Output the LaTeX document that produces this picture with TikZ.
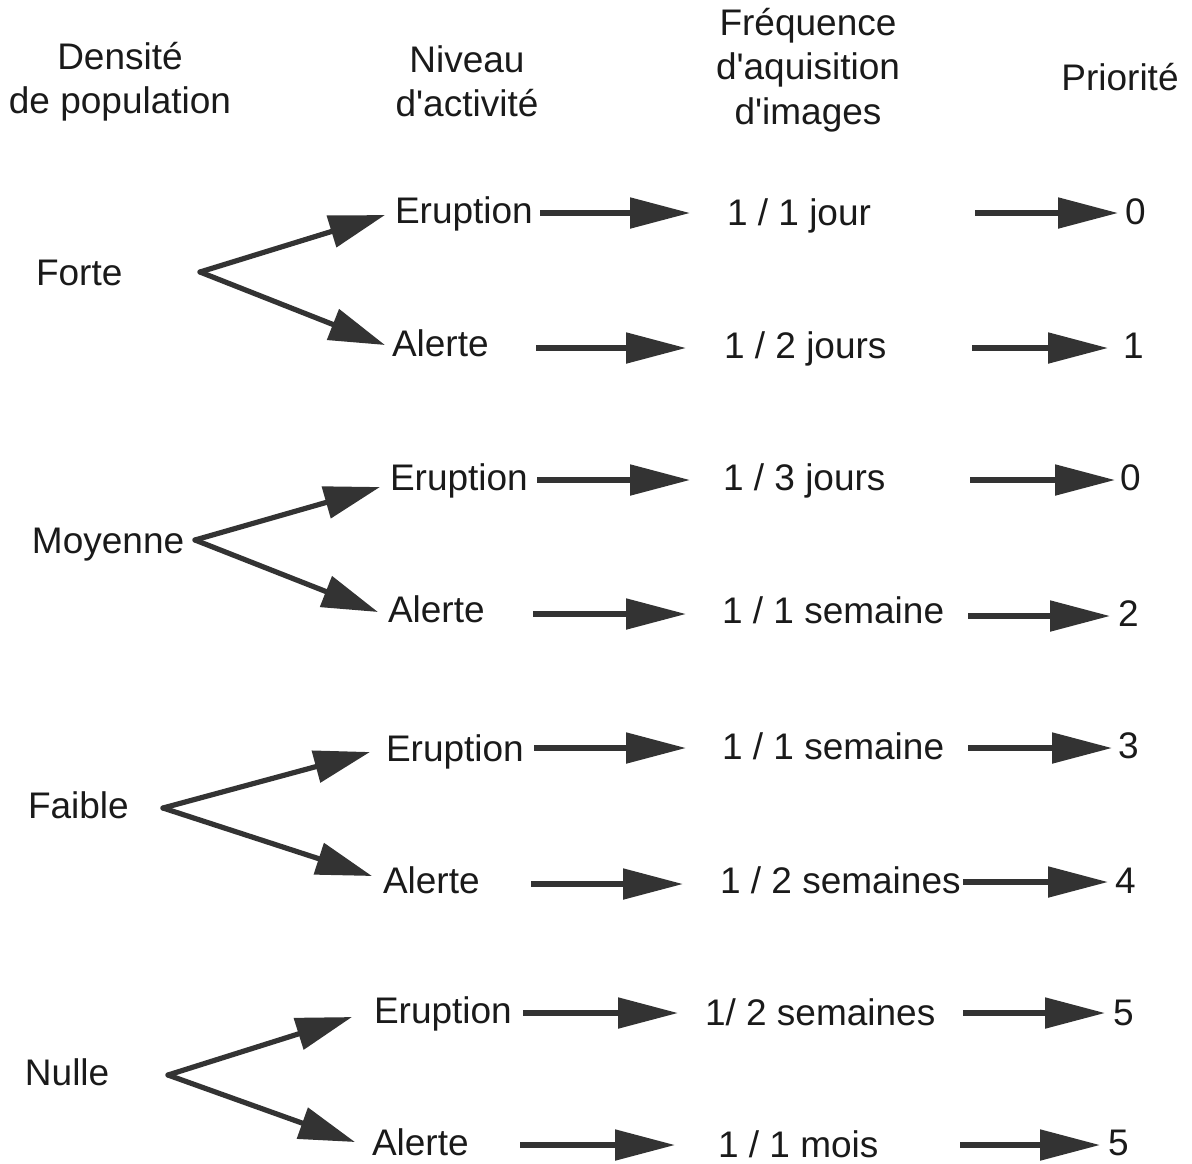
\documentclass[tikz,border=0pt]{standalone}
\usepackage{fontspec}
\setmainfont{Liberation Sans}[Ligatures=TeXOff]
\usetikzlibrary{arrows.meta}
\definecolor{ink}{HTML}{1A1A1A}
\definecolor{arr}{HTML}{333333}
\begin{document}
\begin{tikzpicture}[x=0.5pt,y=-0.5pt,
  lbl/.style={inner sep=0pt,outer sep=0pt,anchor=base west,text=ink,font=\fontsize{18.5}{22.2}\selectfont},
  hdr/.style={inner sep=0pt,outer sep=0pt,anchor=center,align=center,text=ink,font=\fontsize{18.5}{22.2}\selectfont},
  harr/.style={draw=arr,line width=2.6pt,-{Triangle[length=30pt,width=15pt]}},
  barr/.style={draw=arr,line width=2.6pt,line cap=round,-{Triangle[length=28pt,width=16pt]}}]
\useasboundingbox (0,0) rectangle (1192,1163);
% headers
\node[hdr] (h1) at (120,82) {Densité\\de population};
\node[hdr] (h2) at (467,81) {Niveau\\d'activité};
\node[hdr] (h3) at (808,70) {Fréquence\\d'aquisition\\d'images};
\node[hdr] (h4) at (1120,77) {Priorité};
% density
\node[lbl] (d1) at (36,285) {Forte};
\node[lbl] (d2) at (32,553) {Moyenne};
\node[lbl] (d3) at (28,818) {Faible};
\node[lbl] (d4) at (25,1085) {Nulle};
% activity
\node[lbl] (a1) at (395,223) {Eruption};
\node[lbl] (a2) at (392,356) {Alerte};
\node[lbl] (a3) at (390,490) {Eruption};
\node[lbl] (a4) at (388,622) {Alerte};
\node[lbl] (a5) at (386,761) {Eruption};
\node[lbl] (a6) at (383,893) {Alerte};
\node[lbl] (a7) at (374,1023) {Eruption};
\node[lbl] (a8) at (372,1155) {Alerte};
% frequency
\node[lbl] (f1) at (727,225) {1 / 1 jour};
\node[lbl] (f2) at (724,358) {1 / 2 jours};
\node[lbl] (f3) at (723,490) {1 / 3 jours};
\node[lbl] (f4) at (722,623) {1 / 1 semaine};
\node[lbl] (f5) at (722,759) {1 / 1 semaine};
\node[lbl] (f6) at (720,893) {1 / 2 semaines};
\node[lbl] (f7) at (705,1025) {1/ 2 semaines};
\node[lbl] (f8) at (718,1157) {1 / 1 mois};
% priority
\node[lbl] (p1) at (1125,224) {0};
\node[lbl] (p2) at (1123,358) {1};
\node[lbl] (p3) at (1120,490) {0};
\node[lbl] (p4) at (1118,626) {2};
\node[lbl] (p5) at (1118,758) {3};
\node[lbl] (p6) at (1115,893) {4};
\node[lbl] (p7) at (1113,1025) {5};
\node[lbl] (p8) at (1108,1155) {5};
% branch vertices and tips
\coordinate (v1) at (200,272);
\coordinate (v2) at (195,540);
\coordinate (v3) at (163,808);
\coordinate (v4) at (168,1075);
\coordinate (t1) at (385,215); \coordinate (t2) at (385,345);
\coordinate (t3) at (380,487); \coordinate (t4) at (378,612);
\coordinate (t5) at (370,752); \coordinate (t6) at (372,876);
\coordinate (t7) at (352,1017); \coordinate (t8) at (355,1142);
\foreach \v/\a/\b in {v1/t1/t2,v2/t3/t4,v3/t5/t6,v4/t7/t8}{
  \draw[barr] (\v) -- (\a);
  \draw[barr] (\v) -- (\b);
}
% activity -> frequency arrows
\coordinate (s1) at (540,213);  \coordinate (e1) at (690,213);
\coordinate (s2) at (536,348);  \coordinate (e2) at (686,348);
\coordinate (s3) at (537,480);  \coordinate (e3) at (690,480);
\coordinate (s4) at (533,614);  \coordinate (e4) at (686,614);
\coordinate (s5) at (534,748);  \coordinate (e5) at (686,748);
\coordinate (s6) at (531,884);  \coordinate (e6) at (683,884);
\coordinate (s7) at (523,1013); \coordinate (e7) at (678,1013);
\coordinate (s8) at (520,1145); \coordinate (e8) at (675,1145);
% frequency -> priority arrows
\coordinate (g1) at (975,213);  \coordinate (k1) at (1118,213);
\coordinate (g2) at (972,348);  \coordinate (k2) at (1108,348);
\coordinate (g3) at (970,480);  \coordinate (k3) at (1115,480);
\coordinate (g4) at (968,616);  \coordinate (k4) at (1110,616);
\coordinate (g5) at (968,748);  \coordinate (k5) at (1112,748);
\coordinate (g6) at (963,882);  \coordinate (k6) at (1108,882);
\coordinate (g7) at (963,1013); \coordinate (k7) at (1105,1013);
\coordinate (g8) at (960,1145); \coordinate (k8) at (1100,1145);
\foreach \i in {1,...,8}{
  \draw[harr] (s\i) -- (e\i);
  \draw[harr] (g\i) -- (k\i);
}
\end{tikzpicture}
\end{document}
